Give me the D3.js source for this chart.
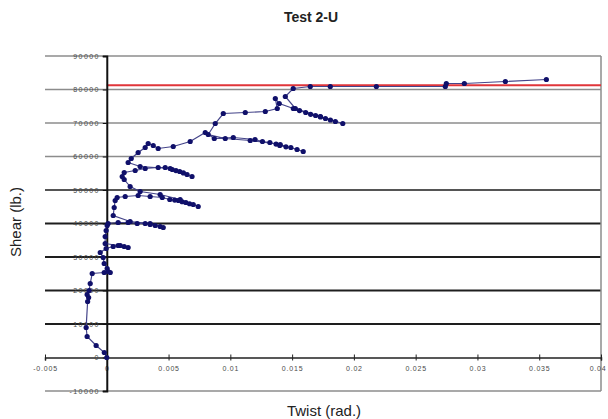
<!DOCTYPE html>
<html>
<head>
<meta charset="utf-8">
<script src="https://cdn.jsdelivr.net/npm/d3@7"></script>
<style>
  html, body { margin: 0; padding: 0; background: #fff; }
  svg { display: block; font-family: "Liberation Sans", Arial, sans-serif; }
</style>
</head>
<body>
<svg id="chart" width="608" height="419"></svg>
<script>
// ---- data ----
const title = "Test 2-U";
const xTitle = "Twist (rad.)";
const yTitle = "Shear (lb.)";
const xTicks = [-0.005, 0, 0.005, 0.01, 0.015, 0.02, 0.025, 0.03, 0.035, 0.04];
const xTickLabels = ["-0.005", "0", "0.005", "0.01", "0.015", "0.02", "0.025", "0.03", "0.035", "0.04"];
const yTicks = [-10000, 0, 10000, 20000, 30000, 40000, 50000, 60000, 70000, 80000, 90000];
const yTickLabels = ["-10000", "0", "10000", "20000", "30000", "40000", "50000", "60000", "70000", "80000", "90000"];
const limitShear = 81300;

const twist = [
  0, -0.0002, -0.00086, -0.00159, -0.00167, -0.00155, -0.00147, -0.00159, -0.00143, -0.00134, -0.00118,
  -0.00021, 0.00011, 0.00028, 0.00003, -0.00021, -0.00029, -0.00053, -0.00005,
  0.00052, 0.00109, 0.00141, 0.00173, 0.00092, -0.00013, -0.00013, -0.00005, 0.00003,
  0.00011, 0.00092, 0.00173, 0.00246, 0.00311, 0.00351, 0.00392, 0.00432, 0.00457,
  0.00351, 0.00189, 0.00052, 0.0006, 0.00068, 0.00084, 0.00149, 0.00254, 0.00351, 0.00449,
  0.0051, 0.0055, 0.0058, 0.0061, 0.0064, 0.0067, 0.007, 0.0074,
  0.00594, 0.00432, 0.0027, 0.00189, 0.00141, 0.00125, 0.00141, 0.0023, 0.00311, 0.00416, 0.00473,
  0.0053, 0.0056, 0.0059, 0.0062, 0.0065, 0.0069,
  0.00513, 0.0027, 0.00173, 0.00198, 0.00254, 0.00311, 0.00335, 0.00376, 0.00416, 0.00538, 0.00675,
  0.00797, 0.0087, 0.01024, 0.012, 0.0126, 0.0132, 0.0137, 0.014, 0.0145, 0.0149, 0.0154, 0.0159,
  0.01404, 0.01161, 0.00959, 0.00821, 0.00878, 0.00943, 0.01121, 0.01283, 0.0138,
  0.01364, 0.01396, 0.0151, 0.0156, 0.0161, 0.0165, 0.0169, 0.0173, 0.0177, 0.0181, 0.0185, 0.0191,
  0.01728, 0.01526, 0.01445, 0.01509, 0.01647, 0.01809, 0.02182, 0.0274, 0.02748, 0.02894, 0.03226, 0.03558
];
const shear = [
  0, 1490, 3580, 6270, 8960, 16720, 17910, 18800, 20000, 22090, 25070,
  25370, 25670, 25370, 26570, 28060, 29850, 31340, 32540,
  33130, 33430, 33130, 32840, 33430, 34030, 36120, 37910, 39400,
  40000, 40300, 40300, 40000, 40000, 39700, 39400, 39100, 38810,
  40000, 40600, 42390, 44780, 46860, 47760, 48060, 48360, 48060, 47760,
  47160, 47000, 46860, 46500, 46270, 45900, 45670, 45070,
  47160, 48660, 49550, 51040, 53130, 54030, 55220, 55820, 56420, 56720, 56720,
  56120, 55800, 55520, 55100, 54630, 54030,
  56420, 57010, 58210, 59400, 61190, 62690, 63880, 63280, 62390, 62980, 64480,
  67160, 65370, 65670, 65070, 64480, 64180, 63700, 63280, 62900, 62690, 62090, 61490,
  63580, 64780, 65370, 66570, 69850, 72830, 73130, 73430, 74330,
  77310, 75820, 74330, 73700, 73130, 72600, 72240, 71800, 71340, 70900, 70450, 69850,
  71940, 74330, 77910, 80300, 80890, 80890, 80890, 80890, 81790, 81790, 82390, 82980
];

// ---- chart ----
const svg = d3.select("#chart");
const x = d3.scaleLinear().domain([-0.005, 0.04]).range([45, 601]);
const y = d3.scaleLinear().domain([-10000, 90000]).range([391, 56]);

// gridlines
const gridColor = v => (v >= 60000 || v <= -10000) ? "#8c8c8c" : (v === 50000 ? "#555" : "#1e1e1e");
svg.append("g").selectAll("line").data(yTicks.filter(v => v !== 0)).join("line")
  .attr("x1", x(-0.005)).attr("x2", x(0.04))
  .attr("y1", d => y(d)).attr("y2", d => y(d))
  .attr("stroke", gridColor)
  .attr("stroke-width", d => (d >= 60000 || d <= -10000) ? 1.5 : 2);

// right border
svg.append("line")
  .attr("x1", x(0.04)).attr("x2", x(0.04))
  .attr("y1", y(90000)).attr("y2", y(-10000))
  .attr("stroke", "#8c8c8c").attr("stroke-width", 1.5);

// limit line
svg.append("line")
  .attr("x1", x(0)).attr("x2", x(0.04))
  .attr("y1", y(limitShear)).attr("y2", y(limitShear))
  .attr("stroke", "#e0353a").attr("stroke-width", 2);

// x axis
const xAxis = d3.axisBottom(x).tickValues(xTicks)
  .tickFormat((d, i) => xTickLabels[i]).tickSize(3).tickPadding(6);
const gx = svg.append("g").attr("transform", `translate(0,${y(0)})`).call(xAxis);
gx.select(".domain").attr("stroke", "#222").attr("stroke-width", 1.5);
gx.selectAll(".tick line").attr("stroke", "#222").attr("y1", -3);
gx.selectAll(".tick text").attr("font-size", 7).attr("fill", "#4a4a4a")
  .attr("letter-spacing", 0.8).attr("font-family", "Liberation Sans, Arial, sans-serif");
gx.selectAll(".tick text").filter(d => d === 0.04).attr("text-anchor", "end").attr("dx", 5);

// y axis
const yAxis = d3.axisLeft(y).tickValues(yTicks)
  .tickFormat((d, i) => yTickLabels[i]).tickSize(4).tickPadding(3);
const gy = svg.append("g").attr("transform", `translate(${x(0)},0)`).call(yAxis);
gy.select(".domain").attr("stroke", "#111").attr("stroke-width", 2);
gy.selectAll(".tick line").attr("stroke", "#111");
gy.selectAll(".tick text").attr("font-size", 7).attr("fill", "#4a4a4a")
  .attr("letter-spacing", 1.4).attr("font-family", "Liberation Sans, Arial, sans-serif");

// data
const pts = twist.map((t, i) => [t, shear[i]]);
svg.append("path").datum(pts)
  .attr("fill", "none").attr("stroke", "#45458a").attr("stroke-width", 1.2)
  .attr("d", d3.line().x(d => x(d[0])).y(d => y(d[1])));
svg.append("g").selectAll("circle").data(pts).join("circle")
  .attr("cx", d => x(d[0])).attr("cy", d => y(d[1])).attr("r", 2.6)
  .attr("fill", "#10106a");

// titles
svg.append("text").attr("x", 311).attr("y", 22).attr("text-anchor", "middle")
  .attr("font-size", 14).attr("font-weight", "bold").attr("fill", "#222").text(title);
svg.append("text").attr("x", 324).attr("y", 416).attr("text-anchor", "middle")
  .attr("font-size", 15).attr("fill", "#222").text(xTitle);
svg.append("text").attr("transform", "translate(21,222) rotate(-90)").attr("text-anchor", "middle")
  .attr("font-size", 15).attr("fill", "#222").text(yTitle);
</script>
</body>
</html>
